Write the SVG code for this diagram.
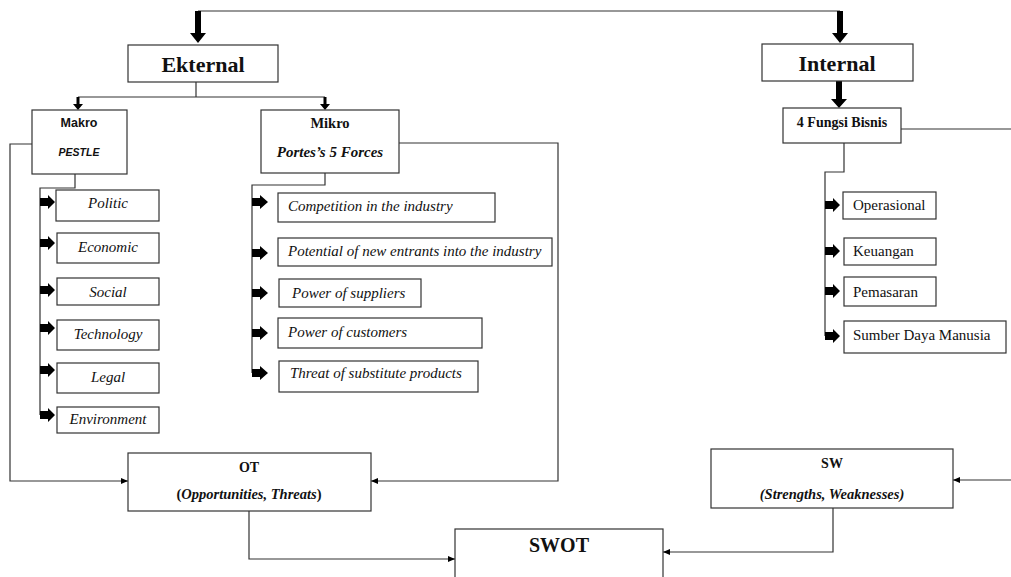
<svg xmlns="http://www.w3.org/2000/svg" width="1011" height="577" viewBox="0 0 1011 577">
<style>
.box{fill:#fff;stroke:#333;stroke-width:1.2}
.ln{fill:none;stroke:#333;stroke-width:1.2}
.blk{fill:#000}
.ser{font-family:"Liberation Serif","Times New Roman",serif;fill:#111}
.san{font-family:"Liberation Sans",Arial,sans-serif;fill:#111}
.b{font-weight:bold}
.i{font-style:italic}
.c{text-anchor:middle}
.li{font-size:15px}
</style>
<defs>
<marker id="ah" markerUnits="userSpaceOnUse" markerWidth="8" markerHeight="8" refX="7" refY="4" orient="auto">
<path d="M0,1 L7,4 L0,7 Z" fill="#000"/>
</marker>
</defs>
<rect width="1011" height="577" fill="#fff"/>

<g id="connectors">
<path class="ln" d="M198,11 H840"/>
<polygon class="blk" points="195,11 201,11 201,33 206,33 198,43 190,33 195,33"/>
<polygon class="blk" points="837,11 843,11 843,33 848,33 840,43 832,33 837,33"/>
<polygon class="blk" points="836,81 842,81 842,99 847,99 839,108 831,99 836,99"/>
<path class="ln" d="M196,82 V97 M78,97 H325"/>
<polygon class="blk" points="76.5,97 79.5,97 79.5,104 83,104 78,110 73,104 76.5,104"/>
<polygon class="blk" points="323.5,97 326.5,97 326.5,104 330,104 325,110 320,104 323.5,104"/>
<path class="ln" d="M75,174 V188 H40 V415"/>
<path class="ln" d="M325,173 V185 H252 V373"/>
<path class="ln" d="M844,143 V172 H825 V336"/>
<path class="ln" d="M901,129 H1011"/>
<g class="blk">
<polygon points="40,198 48,198 48,195 55,202 48,209 48,206 40,206"/>
<polygon points="40,239 48,239 48,236 55,243 48,250 48,247 40,247"/>
<polygon points="40,286 48,286 48,283 55,290 48,297 48,294 40,294"/>
<polygon points="40,324 48,324 48,321 55,328 48,335 48,332 40,332"/>
<polygon points="40,366 48,366 48,363 55,370 48,377 48,374 40,374"/>
<polygon points="40,411 48,411 48,408 55,415 48,422 48,419 40,419"/>
<polygon points="252,198 260,198 260,195 268,202 260,209 260,206 252,206"/>
<polygon points="252,249 260,249 260,246 268,253 260,260 260,257 252,257"/>
<polygon points="252,289 260,289 260,286 268,293 260,300 260,297 252,297"/>
<polygon points="252,329 260,329 260,326 268,333 260,340 260,337 252,337"/>
<polygon points="252,369 260,369 260,366 268,373 260,380 260,377 252,377"/>
<polygon points="825,201 833,201 833,198 840,205 833,212 833,209 825,209"/>
<polygon points="825,247 833,247 833,244 840,251 833,258 833,255 825,255"/>
<polygon points="825,287 833,287 833,284 840,291 833,298 833,295 825,295"/>
<polygon points="825,332 833,332 833,329 840,336 833,343 833,340 825,340"/>
</g>
<path class="ln" d="M32,144 H10 V481 H128" marker-end="url(#ah)"/>
<path class="ln" d="M399,143 H558 V481 H371" marker-end="url(#ah)"/>
<path class="ln" d="M1011,480 H953" marker-end="url(#ah)"/>
<path class="ln" d="M249,511 V559 H455" marker-end="url(#ah)"/>
<path class="ln" d="M833,508 V552 H663" marker-end="url(#ah)"/>
</g>

<g id="ekternal">
<rect class="box" x="128" y="45" width="150" height="37"/>
<text class="ser b c" x="203" y="72" font-size="22">Ekternal</text>
</g>
<g id="internal">
<rect class="box" x="762" y="44" width="151" height="37"/>
<text class="ser b c" x="837" y="71" font-size="22">Internal</text>
</g>
<g id="fungsi">
<rect class="box" x="783" y="108" width="118" height="35"/>
<text class="ser b c" x="842" y="127" font-size="14">4 Fungsi Bisnis</text>
</g>

<g id="makro">
<rect class="box" x="32" y="110" width="95" height="64"/>
<text class="san b c" x="79" y="127" font-size="12.5">Makro</text>
<text class="san b i c" x="79" y="156" font-size="10.5">PESTLE</text>
</g>
<g id="mikro">
<rect class="box" x="261" y="110" width="138" height="63"/>
<text class="ser b c" x="330" y="128" font-size="14.5">Mikro</text>
<text class="ser b i c" x="330" y="157" font-size="15">Portes’s 5 Forces</text>
</g>

<g id="politic"><rect class="box" x="56" y="190" width="103" height="31"/><text class="ser i c li" x="108" y="208">Politic</text></g>
<g id="economic"><rect class="box" x="57" y="233" width="102" height="30"/><text class="ser i c li" x="108" y="252">Economic</text></g>
<g id="social"><rect class="box" x="57" y="278" width="102" height="27"/><text class="ser i c li" x="108" y="297">Social</text></g>
<g id="technology"><rect class="box" x="57" y="320" width="102" height="30"/><text class="ser i c li" x="108" y="339">Technology</text></g>
<g id="legal"><rect class="box" x="57" y="363" width="102" height="30"/><text class="ser i c li" x="108" y="382">Legal</text></g>
<g id="environment"><rect class="box" x="57" y="407" width="102" height="26"/><text class="ser i c li" x="108" y="424">Environment</text></g>

<g id="competition"><rect class="box" x="278" y="193" width="217" height="29"/><text class="ser i li" x="288" y="211">Competition in the industry</text></g>
<g id="potential"><rect class="box" x="278" y="238" width="274" height="28"/><text class="ser i li" x="288" y="256">Potential of new entrants into the industry</text></g>
<g id="suppliers"><rect class="box" x="279" y="279" width="142" height="28"/><text class="ser i li" x="292" y="298">Power of suppliers</text></g>
<g id="customers"><rect class="box" x="278" y="318" width="204" height="30"/><text class="ser i li" x="288" y="337">Power of customers</text></g>
<g id="threat"><rect class="box" x="279" y="361" width="199" height="31"/><text class="ser i li" x="290" y="378">Threat of substitute products</text></g>

<g id="operasional"><rect class="box" x="843" y="192" width="93" height="27"/><text class="ser li" x="853" y="210">Operasional</text></g>
<g id="keuangan"><rect class="box" x="844" y="238" width="92" height="27"/><text class="ser li" x="853" y="256">Keuangan</text></g>
<g id="pemasaran"><rect class="box" x="844" y="277" width="92" height="29"/><text class="ser li" x="853" y="297">Pemasaran</text></g>
<g id="sdm"><rect class="box" x="844" y="321" width="162" height="32"/><text class="ser li" x="853" y="340">Sumber Daya Manusia</text></g>

<g id="ot">
<rect class="box" x="128" y="453" width="243" height="58"/>
<text class="ser b c" x="249" y="472" font-size="14">OT</text>
<text class="ser b c" x="249" y="499" font-size="14.5">(<tspan class="i">Opportunities, Threats</tspan>)</text>
</g>
<g id="sw">
<rect class="box" x="711" y="449" width="242" height="59"/>
<text class="ser b c" x="832" y="468" font-size="14">SW</text>
<text class="ser b i c" x="832" y="499" font-size="14.5">(Strengths, Weaknesses)</text>
</g>
<g id="swot">
<rect class="box" x="455" y="529" width="208" height="60"/>
<text class="ser b c" x="559" y="552" font-size="20">SWOT</text>
</g>
</svg>
